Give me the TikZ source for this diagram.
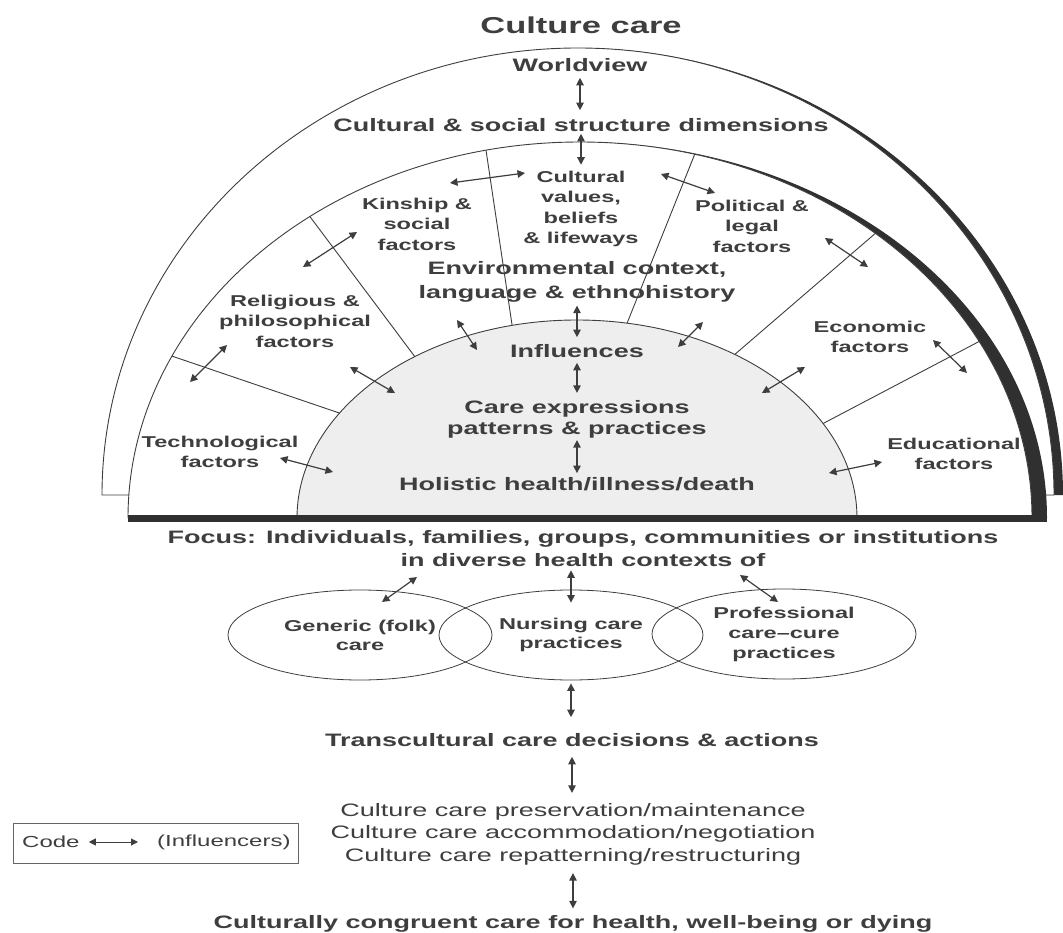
\documentclass[tikz,border=0pt]{standalone}
\usepackage{fontspec}
\setmainfont{Liberation Sans}[FakeStretch=1.5]
\usetikzlibrary{arrows.meta, shapes.geometric}
\definecolor{ink}{RGB}{62,62,62}
\definecolor{shadowgray}{RGB}{48,48,48}
\definecolor{corefill}{RGB}{238,238,238}

\begin{document}
\begin{tikzpicture}[x=1pt, y=-1pt,
    rim/.style={draw=ink, line width=0.9pt},
    heading/.style={font=\bfseries\fontsize{23}{27}\selectfont, text=ink, inner sep=0pt},
    main/.style={font=\bfseries\fontsize{18}{24}\selectfont, text=ink, align=center, inner sep=0pt},
    factor/.style={font=\bfseries\fontsize{15.7}{20.5}\selectfont, text=ink, align=center, inner sep=0pt},
    light/.style={font=\fontsize{18}{22.5}\selectfont, text=ink, align=center, inner sep=0pt},
    practice/.style={ellipse, draw=ink, line width=0.8pt, minimum width=264pt, minimum height=90pt, inner sep=0pt,
        font=\bfseries\fontsize{15.7}{19}\selectfont, text=ink, align=center},
    infl/.style={{Triangle[length=7.5pt,width=7.5pt]}-{Triangle[length=7.5pt,width=7.5pt]}, line width=1.2pt, draw=ink},
    codearrow/.style={{Triangle[length=7pt,width=7pt]}-{Triangle[length=7pt,width=7pt]}, line width=1pt, draw=ink}]

    \useasboundingbox (0,0) rectangle (1063,933);

    % Outer band (worldview)
    \fill[shadowgray] (578,495) -- (1063,495) arc[start angle=0, end angle=90, x radius=485pt, y radius=447pt] -- cycle;
    \filldraw[fill=white, rim] (102,495) arc[start angle=180, end angle=0, x radius=476pt, y radius=447pt] -- cycle;

    % Factor band
    \fill[shadowgray] (580,518) -- (1047,518) arc[start angle=0, end angle=90, x radius=467pt, y radius=376pt] -- cycle;
    \fill[white] (128,518) arc[start angle=180, end angle=0, x radius=452pt, y radius=376pt] -- cycle;
    \draw[rim] (128,518) arc[start angle=180, end angle=0, x radius=452pt, y radius=376pt];

    % Core (care expressions)
    \filldraw[fill=corefill, rim] (297,518) arc[start angle=180, end angle=0, x radius=280pt, y radius=198pt];

    % Sector lines
    \foreach \ta/\tb in {148/154.5, 125.4/126.7, 103.4/102, 79.7/75.3, 55.7/49.2, 28.5/28}
        \draw[rim] ({577+280*cos(\ta)},{518-198*sin(\ta)}) -- ({580+452*cos(\tb)},{518-376*sin(\tb)});

    % Base line
    \draw[shadowgray, line width=7pt] (128,518.5) -- (1047,518.5);

    % Title and upper dimensions
    \node[heading] (title) at (581,25) {Culture care};
    \node[main] (worldview) at (580,65) {Worldview};
    \node[main] (social) at (581,125) {Cultural \& social structure dimensions};

    % Factors
    \node[factor] (values) at (581,209) {Cultural\\values,\\beliefs\\\& lifeways};
    \node[factor] (kinship) at (417,224) {Kinship \&\\social\\factors};
    \node[factor] (political) at (752,226) {Political \&\\legal\\factors};
    \node[factor] (religious) at (295,321) {Religious \&\\philosophical\\factors};
    \node[factor] (economic) at (870,337) {Economic\\factors};
    \node[factor] (techno) at (220,452) {Technological\\factors};
    \node[factor] (educ) at (954,454) {Educational\\factors};

    % Core texts
    \node[main] (environ) at (577,282) {Environmental context,\\language \& ethnohistory};
    \node[main] (influences) at (577,351) {Influences};
    \node[main, font=\bfseries\fontsize{18}{21}\selectfont] (careexp) at (577,419) {Care expressions\\patterns \& practices};
    \node[main] (holistic) at (577,484) {Holistic health/illness/death};

    % Lower part
    \node[main, font=\bfseries\fontsize{18}{23}\selectfont] (focus) at (583,549) {Focus: Individuals, families, groups, communities or institutions\\in diverse health contexts of};
    \node[practice] (generic) at (360,635) {Generic (folk)\\care};
    \node[practice] (nursing) at (571,635) {Nursing care\\practices};
    \node[practice, font=\bfseries\fontsize{15.7}{20}\selectfont] (prof) at (784,634) {Professional\\care--cure\\practices};
    \node[main] (transc) at (572,740) {Transcultural care decisions \& actions};
    \node[light] (actions) at (573,834) {Culture care preservation/maintenance\\Culture care accommodation/negotiation\\Culture care repatterning/restructuring};
    \node[main] (congruent) at (573,924) {Culturally congruent care for health, well-being or dying};

    % Code box
    \node[draw=ink!80, line width=0.9pt, minimum width=285pt, minimum height=40pt, inner sep=0pt] (codebox) at (155.5,843) {};
    \node[light, font=\fontsize{16}{19}\selectfont, anchor=west] (codelbl) at (22,842) {Code};
    \node[light, font=\fontsize{16}{19}\selectfont, anchor=west] (codeinf) at (157,842) {(Influencers)};
    \draw[codearrow, shorten <=9pt, shorten >=19pt] (codelbl.east) -- (codeinf.west);

    % Vertical influence arrows
    \draw[infl] ([yshift=-6pt]worldview.south) -- ([yshift=8pt]worldview.south |- social.north);
    \draw[infl] ([yshift=-2pt]social.south) -- ([yshift=6pt]social.south |- values.north);
    \draw[infl] ([yshift=-3pt]environ.south) -- ([yshift=7pt]environ.south |- influences.north);
    \draw[infl] ([yshift=-5pt]influences.south) -- ([yshift=7pt]influences.south |- careexp.north);
    \draw[infl] ([yshift=-2pt]careexp.south) -- ([yshift=4pt]careexp.south |- holistic.north);
    \draw[infl] ([yshift=-3pt]nursing.north |- focus.south) -- ([yshift=-13pt]nursing.north);
    \draw[infl] ([yshift=-3pt]nursing.south) -- ([yshift=16pt]nursing.south |- transc.north);
    \draw[infl] ([yshift=-10pt]transc.south) -- ([yshift=10pt]transc.south |- actions.north);
    \draw[infl] ([yshift=-8pt]actions.south) -- ([yshift=7pt]actions.south |- congruent.north);

    % Influence arrows between factors
    \coordinate (kv1) at (450,183); \coordinate (kv2) at (525,173);
    \coordinate (rk1) at (303,267); \coordinate (rk2) at (357,232);
    \coordinate (tr1) at (190,382); \coordinate (tr2) at (227,345);
    \coordinate (rc1) at (350,367); \coordinate (rc2) at (395,393);
    \coordinate (ei1) at (457,320); \coordinate (ei2) at (477,350);
    \coordinate (vp1) at (661,174); \coordinate (vp2) at (715,193);
    \coordinate (pe1) at (825,238); \coordinate (pe2) at (868,267);
    \coordinate (ej1) at (703,322); \coordinate (ej2) at (678,347);
    \coordinate (ce1) at (805,367); \coordinate (ce2) at (762,393);
    \coordinate (ed1) at (933,340); \coordinate (ed2) at (967,373);
    \coordinate (tc1) at (280,458); \coordinate (tc2) at (333,472);
    \coordinate (dc1) at (829,473); \coordinate (dc2) at (882,462);
    \coordinate (gf1) at (382,602); \coordinate (gf2) at (417,577);
    \coordinate (pf1) at (740,575); \coordinate (pf2) at (778,602);
    \foreach \a in {kv,rk,tr,rc,ei,vp,pe,ej,ce,ed,tc,dc,gf,pf}
        \draw[infl] (\a1) -- (\a2);
\end{tikzpicture}
\end{document}
